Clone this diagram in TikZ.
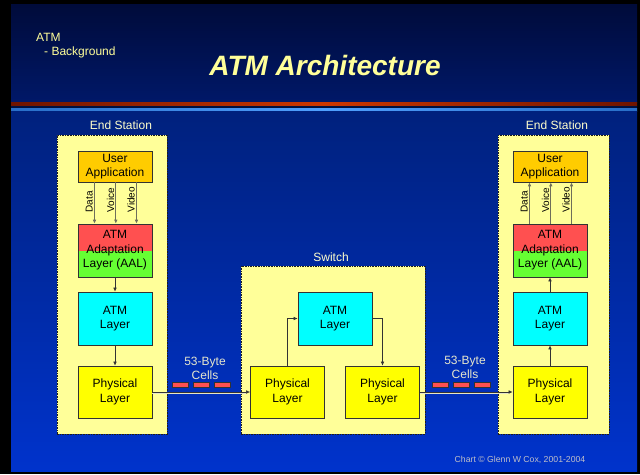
\documentclass[tikz,border=0pt]{standalone}
\usepackage{fontspec}
\setmainfont{Liberation Sans}
\usetikzlibrary{arrows.meta}

\begin{document}
\begin{tikzpicture}[x=1pt,y=1pt,yscale=-1,xscale=1,
  layerbox/.style={draw={rgb, 255:red, 51; green, 51; blue, 51}, line width=0.75, minimum width=74pt, minimum height=53pt, inner sep=0pt, align=center, font=\fontsize{12}{14.5}\selectfont},
  stationbox/.style={draw={rgb, 255:red, 30; green, 30; blue, 30}, fill={rgb, 255:red, 255; green, 255; blue, 153}, line width=1, dash pattern=on 1.6pt off 1pt, inner sep=0pt},
  flow/.style={draw={rgb, 255:red, 51; green, 51; blue, 51}, line width=0.6, -{Latex[length=4pt,width=3.6pt]}},
  chan/.style={draw={rgb, 255:red, 110; green, 110; blue, 90}, line width=0.9, -{Latex[length=4pt,width=3.6pt]}},
  vlabel/.style={rotate=90, anchor=south west, inner sep=0pt, font=\fontsize{10}{12}\selectfont},
  hlabel/.style={anchor=base, inner sep=0pt, text={rgb, 255:red, 255; green, 255; blue, 204}, font=\fontsize{12}{14}\selectfont},
  cell/.style={draw={rgb, 255:red, 51; green, 51; blue, 51}, fill={rgb, 255:red, 255; green, 80; blue, 80}, line width=0.7}
]
\useasboundingbox (0,0) rectangle (640,474);

%Shape: Slide background
\fill [black] (0,0) rectangle (640,474);
\shade [top color={rgb, 255:red, 0; green, 11; blue, 58}, bottom color={rgb, 255:red, 0; green, 24; blue, 104}] (11,4) rectangle (637,102);
\shade [left color={rgb, 255:red, 110; green, 20; blue, 0}, right color={rgb, 255:red, 110; green, 20; blue, 0}, middle color={rgb, 255:red, 205; green, 55; blue, 0}] (11,102) rectangle (637,106);
\fill [color={rgb, 255:red, 0; green, 16; blue, 64}] (11,106) rectangle (637,108);
\shade [left color={rgb, 255:red, 40; green, 110; blue, 200}, right color={rgb, 255:red, 40; green, 110; blue, 200}, middle color={rgb, 255:red, 80; green, 160; blue, 255}] (11,108) rectangle (637,111);
\shade [top color={rgb, 255:red, 0; green, 33; blue, 125}, bottom color={rgb, 255:red, 0; green, 51; blue, 204}] (11,111) rectangle (637,471);

% Text Node
\node [anchor=base west, inner sep=0pt, text={rgb, 255:red, 255; green, 255; blue, 153}, font=\fontsize{12}{14}\selectfont] (topic) at (36,41) {ATM};
% Text Node
\node [anchor=base west, inner sep=0pt, text={rgb, 255:red, 255; green, 255; blue, 153}, font=\fontsize{12}{14}\selectfont] (subtopic) at (44,55) {- Background};
% Text Node
\node [anchor=base, inner sep=0pt, text={rgb, 255:red, 255; green, 255; blue, 153}, font=\fontsize{28}{32}\bfseries\itshape\selectfont] (title) at (325,75) {ATM Architecture};

%Shape: Station frames
\node [stationbox, minimum width=110pt, minimum height=299pt] (stationL) at (112,284.5) {};
\node [stationbox, minimum width=184pt, minimum height=168pt] (switch) at (333,350) {};
\node [stationbox, minimum width=111pt, minimum height=299pt] (stationR) at (553.5,284.5) {};
% Text Node
\node [hlabel] (stationLlabel) at (121,129) {End Station};
\node [hlabel] (switchlabel) at (331,261) {Switch};
\node [hlabel] (stationRlabel) at (557,129) {End Station};

%Shape: Left end station layers
\node [layerbox, minimum height=31pt, fill={rgb, 255:red, 255; green, 204; blue, 0}] (userL) at (115,166.5) {User\\Application};
\node [layerbox, fill={rgb, 255:red, 102; green, 255; blue, 51}, path picture={\fill [color={rgb, 255:red, 255; green, 80; blue, 80}] (path picture bounding box.north west) rectangle (path picture bounding box.east);}] (aalL) at (115,250.5) {ATM\\Adaptation\\Layer (AAL)};
\node [layerbox, fill={rgb, 255:red, 0; green, 255; blue, 255}] (atmL) at (115,318.5) {ATM\\Layer};
\node [layerbox, minimum height=52pt, fill={rgb, 255:red, 255; green, 255; blue, 0}] (physL) at (115,392) {Physical\\Layer};

%Shape: Switch layers
\node [layerbox, fill={rgb, 255:red, 0; green, 255; blue, 255}] (swAtm) at (335,318.5) {ATM\\Layer};
\node [layerbox, minimum height=52pt, fill={rgb, 255:red, 255; green, 255; blue, 0}] (swPhysL) at (287.5,392) {Physical\\Layer};
\node [layerbox, minimum height=52pt, fill={rgb, 255:red, 255; green, 255; blue, 0}] (swPhysR) at (382.5,392) {Physical\\Layer};

%Shape: Right end station layers
\node [layerbox, minimum height=31pt, fill={rgb, 255:red, 255; green, 204; blue, 0}] (userR) at (550,166.5) {User\\Application};
\node [layerbox, fill={rgb, 255:red, 102; green, 255; blue, 51}, path picture={\fill [color={rgb, 255:red, 255; green, 80; blue, 80}] (path picture bounding box.north west) rectangle (path picture bounding box.east);}] (aalR) at (550,250.5) {ATM\\Adaptation\\Layer (AAL)};
\node [layerbox, fill={rgb, 255:red, 0; green, 255; blue, 255}] (atmR) at (550,318.5) {ATM\\Layer};
\node [layerbox, minimum height=52pt, fill={rgb, 255:red, 255; green, 255; blue, 0}] (physR) at (550,392) {Physical\\Layer};

%Straight Lines: left station, downwards
\draw [chan] ([xshift=-20.5pt]userL.south) -- ([xshift=-20.5pt]aalL.north);
\draw [chan] ([xshift=0.8pt]userL.south) -- ([xshift=0.8pt]aalL.north);
\draw [chan] ([xshift=21.5pt]userL.south) -- ([xshift=21.5pt]aalL.north);
\draw [flow] (aalL) -- (atmL);
\draw [flow] (atmL) -- (physL);
% Text Node
\node [vlabel] (dataL) at ([xshift=-22pt,yshift=-11pt]aalL.north) {Data};
\node [vlabel] (voiceL) at ([xshift=-0.7pt,yshift=-11pt]aalL.north) {Voice};
\node [vlabel] (videoL) at ([xshift=20pt,yshift=-11pt]aalL.north) {Video};

%Straight Lines: right station, upwards
\draw [chan] ([xshift=-20.5pt]aalR.north) -- ([xshift=-20.5pt]userR.south);
\draw [chan] ([xshift=0.8pt]aalR.north) -- ([xshift=0.8pt]userR.south);
\draw [chan] ([xshift=21.5pt]aalR.north) -- ([xshift=21.5pt]userR.south);
\draw [flow] (physR) -- (atmR);
\draw [flow] (atmR) -- (aalR);
% Text Node
\node [vlabel] (dataR) at ([xshift=-22pt,yshift=-11pt]aalR.north) {Data};
\node [vlabel] (voiceR) at ([xshift=-0.7pt,yshift=-11pt]aalR.north) {Voice};
\node [vlabel] (videoR) at ([xshift=20pt,yshift=-11pt]aalR.north) {Video};

%Straight Lines: switch
\draw [flow] (swPhysL.north) |- (swAtm.west);
\draw [flow] (swAtm.east) -| (swPhysR.north);

%Straight Lines: physical links
\draw [color={rgb, 255:red, 230; green, 230; blue, 200}, line width=0.9] ([yshift=1pt]physL.east) -- ([yshift=1pt,xshift=-4pt]swPhysL.west);
\draw [flow] (physL.east) -- (swPhysL.west);
\draw [color={rgb, 255:red, 230; green, 230; blue, 200}, line width=0.9] ([yshift=1pt]swPhysR.east) -- ([yshift=1pt,xshift=-4pt]physR.west);
\draw [flow] (swPhysR.east) -- (physR.west);

%Shape: Cells
\draw [cell] (172,382) rectangle (188,387);
\draw [cell] (193,382) rectangle (209,387);
\draw [cell] (214,382) rectangle (230,387);
\draw [cell] (432,382) rectangle (448,387);
\draw [cell] (453,382) rectangle (469,387);
\draw [cell] (474,382) rectangle (490,387);
% Text Node
\node [align=center, inner sep=0pt, text={rgb, 255:red, 230; green, 230; blue, 204}, font=\fontsize{12}{14}\selectfont] (cellsL) at (205,368) {53-Byte\\Cells};
\node [align=center, inner sep=0pt, text={rgb, 255:red, 230; green, 230; blue, 204}, font=\fontsize{12}{14}\selectfont] (cellsR) at (465,367) {53-Byte\\Cells};

% Text Node
\node [anchor=base, inner sep=0pt, text={rgb, 255:red, 190; green, 190; blue, 200}, font=\fontsize{8.7}{10}\selectfont] (credit) at (520,462) {Chart © Glenn W Cox, 2001-2004};

\end{tikzpicture}
\end{document}
